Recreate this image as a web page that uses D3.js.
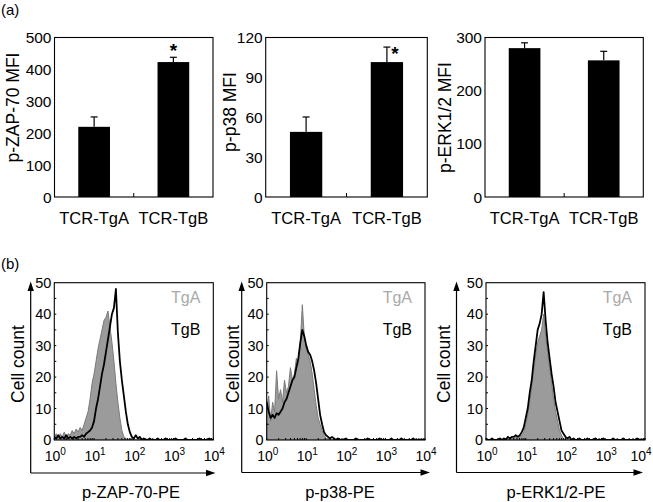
<!DOCTYPE html>
<html><head><meta charset="utf-8">
<script src="https://cdn.jsdelivr.net/npm/d3@7"></script>
<style>body{margin:0;background:#fff}svg{display:block;font-family:"Liberation Sans",Arial,Helvetica,sans-serif}</style>
</head><body><svg id="c" width="653" height="502"></svg>
<script>
// ---------- data: panel (a) ----------
const barCategories = ["TCR-TgA", "TCR-TgB"];
const zapMean = [220, 423];
const zapErr = [31, 15];
const zapStar = [false, true];
const zapTicks = [0, 100, 200, 300, 400, 500];
const p38Mean = [49, 101.5];
const p38Err = [11.2, 11.3];
const p38Star = [false, true];
const p38Ticks = [0, 30, 60, 90, 120];
const erkMean = [280, 257];
const erkErr = [10, 17];
const erkStar = [false, false];
const erkTicks = [0, 100, 200, 300];

// ---------- data: panel (b) ----------
// counts per channel; channel k sits at 10^(k*0.05)
const histTicks = [0, 10, 20, 30, 40, 50];
const logDecades = [0, 1, 2, 3, 4];
const legendLabels = ["TgA", "TgB"];
const zapTgA = [1,2,0.5,2,1,2.5,1,2,1.5,3,2,3.5,2.5,4,3,
  5,7,9,13,18,21,25,29,32,35,38,39,41,36,31,25,18,12,7,3,1,0.5,
  0,0.5,0,0,0,0,0.5,0,0,0, 0,0,0,0,0,0,0,0,0,0, 0,0,0,0,0,0,0,0,0,0, 0,0,0,0,0,0,0,0,0,0, 0,0,0,0];
const zapTgB = [1,0.5,1.5,0.5,1,0.5,1.5,0.5,1,0.5,1,0.5,1,1,1.5,1,2,2.5,
  3,4,6,10,13,17,21,24,28,32,36,40,42,48,34,25,19,14,9,5,2.5,1,0.5,
  1.5,0.5,1,0,0.5,0,0,0.5,0,0, 0,0.5,0,0,0,0.5,0,0,0,0, 0.5,0,0,0,0,0.5,0,0,0,0, 0,0,0.5,0,0,0,0,0.5,0,0];
const p38TgA = [10,14,6,12,9,22,13,16,12,19,15,17,23,19,21,26,24,31,43,33,29,27,25,21,16,11,7,5,3,1.5,0.5,0.5,
  0,0,0,0,0,0,0,0,0, 0,0,0,0,0,0,0,0,0,0, 0,0,0,0,0,0,0,0,0,0, 0,0,0,0,0,0,0,0,0,0, 0,0,0,0,0,0,0,0,0,0];
const p38TgB = [12,9,7,8,7,8.5,8,9,10,12,13,15,17,19,20,23,26,31,35,33,30,28,27,25,22,18,13,8,5,2.5,1.5,1,0.5,1,0.5,
  0,0.5,0,0,0,0.5,0,0,0,0, 0.5,0,0,0,0,0,0.5,0,0,0, 0,0,0.5,0,0,0,0,0,0.5,0, 0,0,0,0.5,0,0,0,0,0,0.5, 0,0,0,0,0,0];
const erkTgA = [0,0,0,0,0,0,0.5,0,0,0,0.5,0,0.5,0.5,0.5,1,0.5,1,
  1.5,2.5,5,8,12,17,22,27,31,33,35,40,33,28,23,18,13,9,6,3,1.5,0.5,0,
  0,0,0,0,0,0,0,0,0,0, 0,0,0,0,0,0,0,0,0,0, 0,0,0,0,0,0,0,0,0,0, 0,0,0,0,0,0,0,0,0,0];
const erkTgB = [0.5,0,0,0.5,0,0,0,0.5,0,0.5,0,1,0.5,1,1,1.5,1,1.5,
  2.5,4,7,10,15,19,25,30,35,37,40,47,38,31,26,21,17,12,9,6,3,2,1,0.5,1,
  0,0.5,0,0,0.5,0,0,0,0.5,0, 0,0,0.5,0,0,0,0.5,0,0,0, 0,0.5,0,0,0,0,0.5,0,0,0, 0,0,0,0.5,0,0,0,0.5];
const channelStep = 0.05;

const svg = d3.select("#c");

// panel letters
svg.append("text").attr("x", 1).attr("y", 15).attr("font-size", 15).text("(a)");
svg.append("text").attr("x", 1).attr("y", 269).attr("font-size", 15).text("(b)");

function barPanel(c) {
  const top = 37.5, bottom = 197;
  const g = svg.append("g");
  const y = d3.scaleLinear().domain([0, c.ticks[c.ticks.length - 1]]).range([bottom, top]);
  const x = d3.scaleBand().domain(barCategories).range([c.x0, c.x1]).paddingInner(0.6).paddingOuter(0.3);
  g.selectAll(".bar").data(c.mean).enter().append("rect")
    .attr("x", (d, i) => x(barCategories[i])).attr("width", x.bandwidth())
    .attr("y", d => y(d)).attr("height", d => bottom - y(d)).attr("fill", "#000");
  c.mean.forEach((m, i) => {
    const cx = x(barCategories[i]) + x.bandwidth() / 2;
    g.append("line").attr("x1", cx).attr("x2", cx).attr("y1", y(m)).attr("y2", y(m + c.err[i]))
      .attr("stroke", "#000").attr("stroke-width", 1.2);
    g.append("line").attr("x1", cx - 3.5).attr("x2", cx + 3.5).attr("y1", y(m + c.err[i])).attr("y2", y(m + c.err[i]))
      .attr("stroke", "#000").attr("stroke-width", 1.2);
    if (c.star[i]) {
      g.append("text").attr("x", cx + c.starDx).attr("y", y(m + c.err[i]) + c.starDy)
        .attr("text-anchor", "middle").attr("font-size", 19).attr("font-weight", "bold").text("*");
    }
  });
  g.append("rect").attr("x", c.x0).attr("y", top).attr("width", c.x1 - c.x0).attr("height", bottom - top)
    .attr("fill", "none").attr("stroke", "#000").attr("stroke-width", 1.1);
  const mid = (c.x0 + c.x1) / 2;
  g.append("line").attr("x1", mid).attr("x2", mid).attr("y1", bottom).attr("y2", bottom - 4)
    .attr("stroke", "#000").attr("stroke-width", 1);
  g.selectAll(".yt").data(c.ticks).enter().append("text")
    .attr("x", c.x0 - 3).attr("y", d => y(d)).attr("dy", "0.36em")
    .attr("text-anchor", "end").attr("font-size", 15.5).text(d => d);
  g.selectAll(".xl").data(barCategories).enter().append("text")
    .attr("x", d => x(d) + x.bandwidth() / 2).attr("y", 223.5)
    .attr("text-anchor", "middle").attr("font-size", 16.5).text(d => d);
  g.append("text").attr("transform", `translate(${c.tx},${c.ty}) rotate(-90)`)
    .attr("text-anchor", "middle").attr("dy", "0.35em").attr("font-size", 17.5).text(c.title);
}

barPanel({x0: 54.5, x1: 213, mean: zapMean, err: zapErr, star: zapStar, ticks: zapTicks,
  title: "p-ZAP-70 MFI", tx: 13, ty: 107.5, starDx: 0, starDy: 0});
barPanel({x0: 265.7, x1: 427.3, mean: p38Mean, err: p38Err, star: p38Star, ticks: p38Ticks,
  title: "p-p38 MFI", tx: 230, ty: 112, starDx: 8, starDy: 13});
barPanel({x0: 485, x1: 643.3, mean: erkMean, err: erkErr, star: erkStar, ticks: erkTicks,
  title: "p-ERK1/2 MFI", tx: 445, ty: 117.5, starDx: 0, starDy: 0});

function histPanel(c) {
  const top = 282.7, bottom = 440;
  const g = svg.append("g");
  const x = d3.scaleLog().domain([1, 1e4]).range([c.x0, c.x1]);
  const y = d3.scaleLinear().domain([0, 50]).range([bottom, top]);
  const clipId = "clip" + Math.round(c.x0);
  g.append("clipPath").attr("id", clipId).append("rect")
    .attr("x", c.x0).attr("y", top - 2).attr("width", c.x1 - c.x0).attr("height", bottom - top + 2);
  const pts = arr => arr.map((v, k) => [Math.pow(10, k * channelStep), v]);
  const area = d3.area().x(d => x(d[0])).y0(bottom).y1(d => y(d[1]));
  const line = d3.line().x(d => x(d[0])).y(d => y(d[1]));
  const cg = g.append("g").attr("clip-path", `url(#${clipId})`);
  cg.append("path").attr("d", area(pts(c.a))).attr("fill", "#9b9b9b").attr("stroke", "#7a7a7a").attr("stroke-width", 1);
  cg.append("path").attr("d", line(pts(c.b))).attr("fill", "none").attr("stroke", "#000").attr("stroke-width", 1.8)
    .attr("stroke-linejoin", "round");
  g.append("rect").attr("x", c.x0).attr("y", top).attr("width", c.x1 - c.x0).attr("height", bottom - top)
    .attr("fill", "none").attr("stroke", "#000").attr("stroke-width", 1.1);
  g.selectAll(".mt").data(x.ticks()).enter().append("line")
    .attr("x1", d => x(d)).attr("x2", d => x(d)).attr("y1", bottom).attr("y2", bottom - 2)
    .attr("stroke", "#000").attr("stroke-width", 1);
  g.selectAll(".lt").data(d3.range(5, 50, 5)).enter().append("line")
    .attr("x1", c.x0).attr("x2", c.x0 + 2).attr("y1", d => y(d)).attr("y2", d => y(d))
    .attr("stroke", "#000").attr("stroke-width", 1);
  g.selectAll(".yt").data(histTicks).enter().append("text")
    .attr("x", c.x0 - 3).attr("y", d => y(d)).attr("dy", "0.36em")
    .attr("text-anchor", "end").attr("font-size", 14.5).text(d => d);
  logDecades.forEach((p, i) => {
    const shift = i === logDecades.length - 1 ? c.lastShift : 1;
    const t = g.append("text").attr("x", x(Math.pow(10, p)) + shift).attr("y", 461)
      .attr("text-anchor", "middle").attr("font-size", 14);
    t.append("tspan").text("10");
    t.append("tspan").attr("dy", -6).attr("font-size", 10).text(p);
  });
  g.append("text").attr("x", c.x1 - 13).attr("y", 302.5).attr("text-anchor", "end")
    .attr("font-size", 16).attr("fill", "#a9a9a9").text(legendLabels[0]);
  g.append("text").attr("x", c.x1 - 13).attr("y", 335).attr("text-anchor", "end")
    .attr("font-size", 16).attr("fill", "#000").text(legendLabels[1]);
  g.append("line").attr("x1", c.ax).attr("x2", c.ax).attr("y1", c.ay).attr("y2", 289)
    .attr("stroke", "#000").attr("stroke-width", 1.2);
  g.append("path").attr("d", `M${c.ax},281.5 L${c.ax - 3.2},291 L${c.ax + 3.2},291 Z`).attr("fill", "#000");
  g.append("line").attr("x1", c.ax).attr("x2", c.tipX - 7).attr("y1", c.ay).attr("y2", c.ay)
    .attr("stroke", "#000").attr("stroke-width", 1.2);
  g.append("path").attr("d", `M${c.tipX},${c.ay} L${c.tipX - 9.5},${c.ay - 3.2} L${c.tipX - 9.5},${c.ay + 3.2} Z`).attr("fill", "#000");
  g.append("text").attr("x", c.titleX).attr("y", 498).attr("text-anchor", "middle")
    .attr("font-size", 16.5).text(c.title);
  g.append("text").attr("transform", `translate(${c.ycx},364) rotate(-90)`)
    .attr("text-anchor", "middle").attr("dy", "0.35em").attr("font-size", 17.5).text("Cell count");
}

histPanel({x0: 54.3, x1: 213.3, a: zapTgA, b: zapTgB, ax: 30.7, ay: 473, tipX: 215.5,
  title: "p-ZAP-70-PE", titleX: 131, ycx: 17.5, lastShift: 1});
histPanel({x0: 266.7, x1: 425, a: p38TgA, b: p38TgB, ax: 241.7, ay: 472.5, tipX: 430,
  title: "p-p38-PE", titleX: 340, ycx: 232.5, lastShift: 1});
histPanel({x0: 486, x1: 645, a: erkTgA, b: erkTgB, ax: 456.5, ay: 472.5, tipX: 643,
  title: "p-ERK1/2-PE", titleX: 556, ycx: 444, lastShift: -4});
</script></body></html>
